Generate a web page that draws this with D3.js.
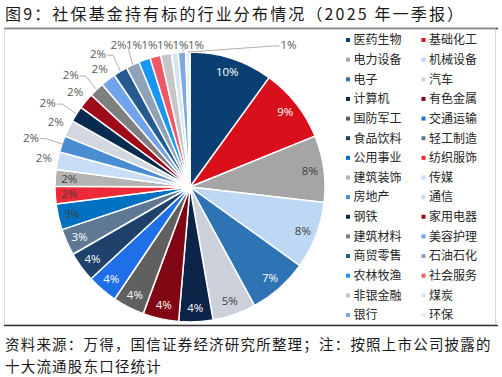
<!DOCTYPE html>
<html>
<head>
<meta charset="utf-8">
<script src="https://cdnjs.cloudflare.com/ajax/libs/d3/7.8.5/d3.min.js"></script>
<style>
  body { margin: 0; background: #fff; }
  svg { display: block; }
</style>
</head>
<body>
<div id="chart"></div>
<script>
// 行业名称（按饼图顺时针顺序）
var categories = ["医药生物", "基础化工", "电力设备", "机械设备", "电子", "汽车",
  "计算机", "有色金属", "国防军工", "交通运输", "食品饮料", "轻工制造",
  "公用事业", "纺织服饰", "建筑装饰", "传媒", "房地产", "通信", "钢铁",
  "家用电器", "建筑材料", "美容护理", "商贸零售", "石油石化", "农林牧渔",
  "社会服务", "非银金融", "煤炭", "银行", "环保"];

// 占比 (%)
var shares = [10.0, 8.9, 8.0, 8.1, 7.2, 5.2,
  4.1, 4.3, 3.8, 3.7, 3.6, 3.2,
  3.1, 2.1, 2.0, 2.1, 2.0, 2.0, 1.9,
  1.9, 1.8, 1.8, 1.7, 1.6, 1.4,
  1.3, 1.3, 0.8, 0.9, 0.5];

var colors = ["#0a3f73", "#d9101c", "#a5a5a5", "#bdd7f5", "#2e74b5", "#cbd0da",
  "#0b2447", "#7f0612", "#606060", "#1e6fe8", "#1e426b", "#5f7894",
  "#0070c0", "#ee2a38", "#b3b3b3", "#c8ddf6", "#4a8dd2", "#d3d8e0", "#062b50",
  "#a00b1a", "#7f7f7f", "#6fa3ec", "#245c92", "#8fa3b8", "#1995f2",
  "#f05a68", "#c6c6c6", "#d5e5f7", "#7aaae0", "#e9edf2"];

var title = "图9：社保基金持有标的行业分布情况（2025 年一季报）";
var notes = ["资料来源：万得，国信证券经济研究所整理；注：按照上市公司披露的",
  "十大流通股东口径统计"];

var width = 502, height = 377;
var cx = 190, cy = 187, R = 135;
var insideCount = 15;           // 前 15 个扇区标签放在扇区内
var darkText = ["电力设备", "机械设备", "汽车", "公用事业", "纺织服饰", "建筑装饰"];

var svg = d3.select("#chart").append("svg")
  .attr("width", width).attr("height", height);

svg.append("rect").attr("width", width).attr("height", height).attr("fill", "#fff");

// 标题
svg.append("text")
  .attr("x", 5).attr("y", 20)
  .attr("font-family", "'Noto Sans CJK SC', sans-serif")
  .attr("font-size", "16px")
  .attr("letter-spacing", "2.15px")
  .attr("fill", "#1a1a1a")
  .text(title);

svg.append("line")
  .attr("x1", 4).attr("x2", 498).attr("y1", 28.5).attr("y2", 28.5)
  .attr("stroke", "#333").attr("stroke-width", 1.3);

// 图区边框
svg.append("rect")
  .attr("x", 4.5).attr("y", 29).attr("width", 491).attr("height", 296)
  .attr("fill", "none").attr("stroke", "#d9d9d9").attr("stroke-width", 1);

svg.append("line")
  .attr("x1", 4).attr("x2", 498).attr("y1", 325.5).attr("y2", 325.5)
  .attr("stroke", "#333").attr("stroke-width", 1.3);

// 饼图
var data = categories.map(function(c, i) { return { name: c, value: shares[i], color: colors[i] }; });

var pie = d3.pie().sort(null).value(function(d) { return d.value; });
var arcs = pie(data);
var arc = d3.arc().innerRadius(0).outerRadius(R);

var g = svg.append("g").attr("transform", "translate(" + cx + "," + cy + ")");

g.selectAll("path.slice")
  .data(arcs)
  .enter()
  .append("path")
  .attr("class", "slice")
  .attr("d", arc)
  .attr("fill", function(d) { return d.data.color; })
  .attr("stroke", "#fff")
  .attr("stroke-width", 1.5)
  .attr("stroke-linejoin", "round");

function mid(d) { return (d.startAngle + d.endAngle) / 2; }
function polar(a, r) { return [r * Math.sin(a), -r * Math.cos(a)]; }
function pct(d) { return Math.round(d.data.value) + "%"; }

var labelFont = "'Open Sans', sans-serif";

// 扇区内标签
g.selectAll("text.inlabel")
  .data(arcs.filter(function(d, i) { return i < insideCount; }))
  .enter()
  .append("text")
  .attr("class", "inlabel")
  .attr("x", function(d) { return polar(mid(d), 121)[0]; })
  .attr("y", function(d) { return polar(mid(d), 121)[1]; })
  .attr("dy", "0.35em")
  .attr("text-anchor", "middle")
  .attr("font-family", labelFont)
  .attr("font-size", "11.5px")
  .attr("fill", function(d) { return darkText.indexOf(d.data.name) >= 0 ? "#404040" : "#fff"; })
  .text(pct);

// 扇区外标签：短半径放置，与上一个标签冲突则外移并加引导线
var outside = arcs.filter(function(d, i) { return i >= insideCount; });
var placed = [];
var topRow = [];
var last = outside[outside.length - 1];

outside.forEach(function(d) {
  var a = mid(d);
  var natural = polar(a, 149);
  var edge = polar(a, R);
  var item = { d: d, natural: natural, edge: edge, pos: natural.slice(), line: false };
  if (d === last) {
    item.pos = [R * 0.73, -142];
    item.line = true;
  } else if (natural[1] < -134) {
    topRow.push(item);
  } else {
    var prev = placed[placed.length - 1];
    if (prev && Math.abs(prev.pos[0] - natural[0]) < 18 && Math.abs(prev.pos[1] - natural[1]) < 20) {
      var dir = polar(a, 20);
      item.pos = [edge[0] + dir[0] - 12, edge[1] + dir[1]];
      item.line = true;
    }
  }
  placed.push(item);
});

// 顶部一行标签，从中轴右侧向左依次排开
topRow.forEach(function(item, j) {
  item.pos = [6 - (topRow.length - 1 - j) * 15.5, -142];
  var dx = item.pos[0] - item.natural[0], dy = item.pos[1] - item.natural[1];
  if (Math.sqrt(dx * dx + dy * dy) > 10) item.line = true;
});

var lineGen = d3.line();

placed.forEach(function(item) {
  if (item.line) {
    var left = item.pos[0] < item.edge[0];
    var start = [item.pos[0] + (left ? 9 : -9), item.pos[1] + 1];
    var pts = [start];
    if (Math.abs(item.edge[0] - start[0]) > 12) pts.push([start[0] + (left ? 6 : -6), start[1]]);
    pts.push(item.edge);
    g.append("path")
      .attr("d", lineGen(pts))
      .attr("fill", "none")
      .attr("stroke", "#a6a6a6")
      .attr("stroke-width", 0.9);
  }
  g.append("text")
    .attr("x", item.pos[0])
    .attr("y", item.pos[1])
    .attr("dy", "0.35em")
    .attr("text-anchor", "middle")
    .attr("font-family", labelFont)
    .attr("font-size", "11.5px")
    .attr("fill", "#595959")
    .text(pct(item.d));
});

// 图例：两列
var rowH = 19.64;
var legend = svg.append("g");
var items = legend.selectAll("g.item")
  .data(data)
  .enter()
  .append("g")
  .attr("class", "item")
  .attr("transform", function(d, i) {
    var col = i % 2, row = Math.floor(i / 2);
    return "translate(" + (col === 0 ? 348 : 423.5) + "," + (40 + row * rowH) + ")";
  });

items.append("rect")
  .attr("x", -2).attr("y", -2).attr("width", 4).attr("height", 4)
  .attr("fill", function(d) { return d.color; });

items.append("text")
  .attr("x", 5.5)
  .attr("dy", "0.36em")
  .attr("font-family", "'Noto Sans CJK SC', sans-serif")
  .attr("font-size", "12px")
  .attr("fill", "#262626")
  .text(function(d) { return d.name; });

// 资料来源
svg.selectAll("text.note")
  .data(notes)
  .enter()
  .append("text")
  .attr("class", "note")
  .attr("x", 5)
  .attr("y", function(d, i) { return 350 + i * 22; })
  .attr("font-family", "'Noto Sans CJK SC', sans-serif")
  .attr("font-size", "14.5px")
  .attr("letter-spacing", "1.2px")
  .attr("fill", "#1a1a1a")
  .text(function(d) { return d; });
</script>
</body>
</html>
